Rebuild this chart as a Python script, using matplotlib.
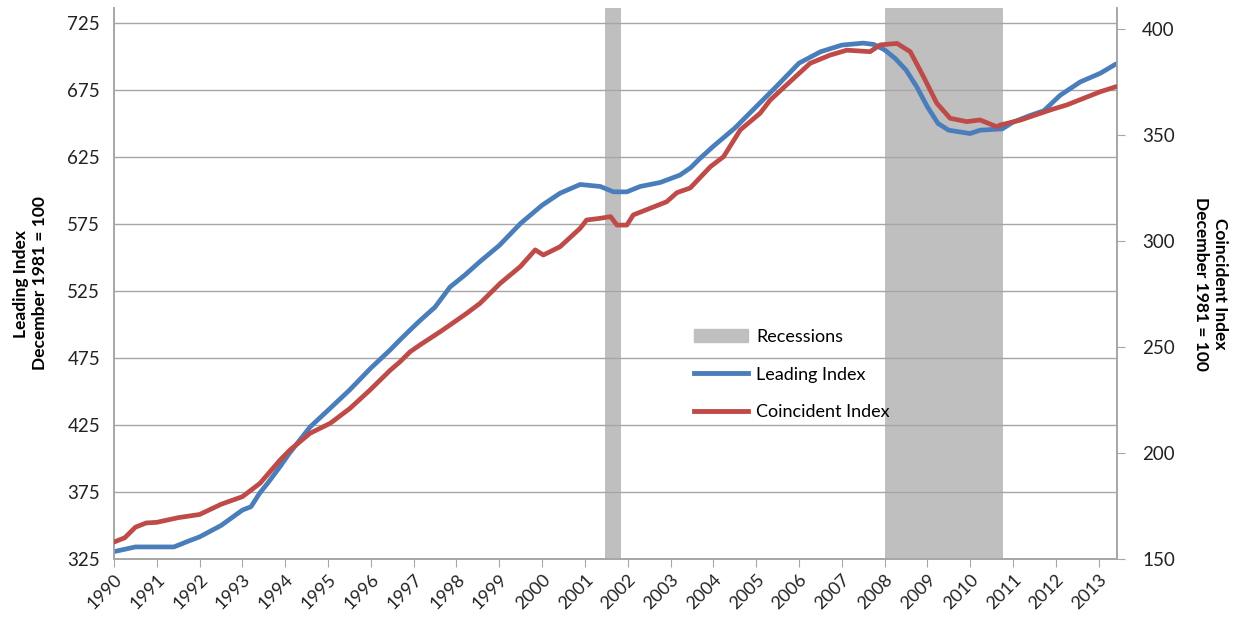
import matplotlib
matplotlib.use("Agg")
import matplotlib.pyplot as plt
from matplotlib.patches import Patch
from matplotlib.lines import Line2D

# values
lead_t = [1990.0, 1990.5, 1991.0, 1991.4, 1991.75, 1992.0, 1992.5, 1993.0, 1993.2, 1993.4,
          1993.6, 1993.88, 1994.1, 1994.58, 1995.05, 1995.5, 1996.0, 1996.45, 1996.68, 1996.92,
          1997.15, 1997.5, 1997.85, 1998.2, 1998.55, 1999.0, 1999.5, 2000.0, 2000.42, 2000.89,
          2001.36, 2001.67, 2001.98, 2002.29, 2002.76, 2003.22, 2003.47, 2003.69, 2004.0, 2004.5,
          2005.0, 2005.5, 2006.0, 2006.5, 2007.0, 2007.5, 2007.75, 2008.0, 2008.25, 2008.5,
          2008.75, 2009.0, 2009.25, 2009.5, 2010.0, 2010.23, 2010.75, 2011.0, 2011.4, 2011.72,
          2012.1, 2012.57, 2013.04, 2013.41]
lead_v = [330.5, 334, 334, 334, 338.5, 341.5, 350, 361.5, 364, 374,
          382, 394, 404, 423.5, 437.5, 451, 467.5, 481, 488.5, 496,
          503, 513, 528, 537, 547, 559, 575.5, 589, 598, 604.5,
          603, 599, 599, 603, 606, 611.5, 617, 624, 633, 646.5,
          662.5, 678.5, 695, 703.5, 708.5, 710, 709, 705, 698.5, 690,
          677.5, 662.5, 650, 645, 642.5, 645, 646, 651, 656, 659.5,
          671, 681, 687.5, 694.5]

coin_t = [1990.0, 1990.25, 1990.5, 1990.75, 1991.0, 1991.5, 1992.0, 1992.25, 1992.5, 1993.0,
          1993.41, 1993.88, 1994.11, 1994.58, 1995.05, 1995.51, 1995.98, 1996.45, 1996.68, 1996.92,
          1997.15, 1997.62, 1997.85, 1998.24, 1998.55, 1999.02, 1999.49, 1999.84, 2000.03, 2000.42,
          2000.89, 2001.04, 2001.36, 2001.6, 2001.75, 2001.98, 2002.13, 2002.52, 2002.91, 2003.15,
          2003.46, 2003.93, 2004.24, 2004.63, 2005.09, 2005.33, 2005.79, 2006.26, 2006.73, 2007.12,
          2007.66, 2007.9, 2008.29, 2008.6, 2008.91, 2009.22, 2009.53, 2009.92, 2010.23, 2010.62,
          2010.7, 2011.17, 2011.87, 2012.26, 2012.65, 2013.04, 2013.41]
coin_v = [158, 160, 165, 167, 167.3, 169.5, 171, 173.4, 175.8, 179.4,
          185.7, 196.7, 201.4, 209.3, 214, 221, 229.7, 239, 243, 247.8,
          251, 257.2, 260.4, 265.9, 270.6, 280, 287.9, 295.8, 293.4, 297.3,
          306, 309.9, 310.7, 311.5, 307.5, 307.5, 312.3, 315.4, 318.5, 322.8,
          325, 335, 339.8, 352.4, 360.2, 366.5, 375.1, 383.8, 387.7, 390,
          389.3, 392.5, 393.2, 389.3, 377.5, 365, 357.9, 356.3, 357.1, 353.9,
          354.7, 357, 361.8, 364.2, 367.3, 370.4, 372.8]

recessions = [(2001.47, 2001.84), (2008.0, 2010.77)]
years = list(range(1990, 2014))
left_ticks = [325, 375, 425, 475, 525, 575, 625, 675, 725]
right_ticks = [150, 200, 250, 300, 350, 400]

plt.rcParams['font.family'] = ['Lato', 'DejaVu Sans']

blue = "#4a7ebb"
red = "#be4b48"
grey = "#bfbfbf"
axis_col = "#a6a6a6"

fig = plt.figure(figsize=(12.33, 6.2), dpi=100)
ax = fig.add_axes([114 / 1233, 1 - 559 / 620, (1117 - 114) / 1233, (559 - 8) / 620])
ax2 = ax.twinx()

for a, b in recessions:
    ax.axvspan(a, b, color=grey, lw=0, zorder=0)

ax.plot(lead_t, lead_v, color=blue, lw=3.4, zorder=3, solid_capstyle='round')
ax2.plot(coin_t, coin_v, color=red, lw=3.4, zorder=3, solid_capstyle='round')

ax.set_xlim(1990, 2013.43)
ax.set_ylim(325, 736.2)
ax2.set_ylim(150, 409.9)

ax.set_yticks(left_ticks)
ax2.set_yticks(right_ticks)
ax.set_xticks(years)
ax.set_xticklabels([str(y) for y in years], rotation=45, ha='right', rotation_mode='anchor')
ax.grid(axis='y', color=axis_col, lw=1)
ax.set_axisbelow(True)

for a in (ax, ax2):
    a.spines['top'].set_visible(False)
    for s in ('left', 'right', 'bottom'):
        a.spines[s].set_color(axis_col)
        a.spines[s].set_linewidth(1.2)

ax.tick_params(axis='y', length=0, labelsize=13.5, pad=10, labelcolor='#222222')
ax.tick_params(axis='x', length=6, color=axis_col, labelsize=13, pad=3, labelcolor='#222222')
ax2.tick_params(axis='y', length=6, color=axis_col, labelsize=13.5, pad=12, labelcolor='#222222')

ax.set_ylabel("Leading Index\nDecember 1981 = 100", fontsize=12.5, fontweight='bold', labelpad=14)
ax2.set_ylabel("Coincident Index\nDecember 1981 = 100", fontsize=12.5, fontweight='bold',
               rotation=270, labelpad=38)

handles = [Patch(color=grey), Line2D([], [], color=blue, lw=3.5), Line2D([], [], color=red, lw=3.5)]
labels = ["Recessions", "Leading Index", "Coincident Index"]
ax2.legend(handles, labels, loc='upper left', bbox_to_anchor=(0.562, 0.447), frameon=False,
           fontsize=13, handlelength=3.0, labelspacing=1.2, handletextpad=0.45)

fig.savefig("out.png", dpi=100)
